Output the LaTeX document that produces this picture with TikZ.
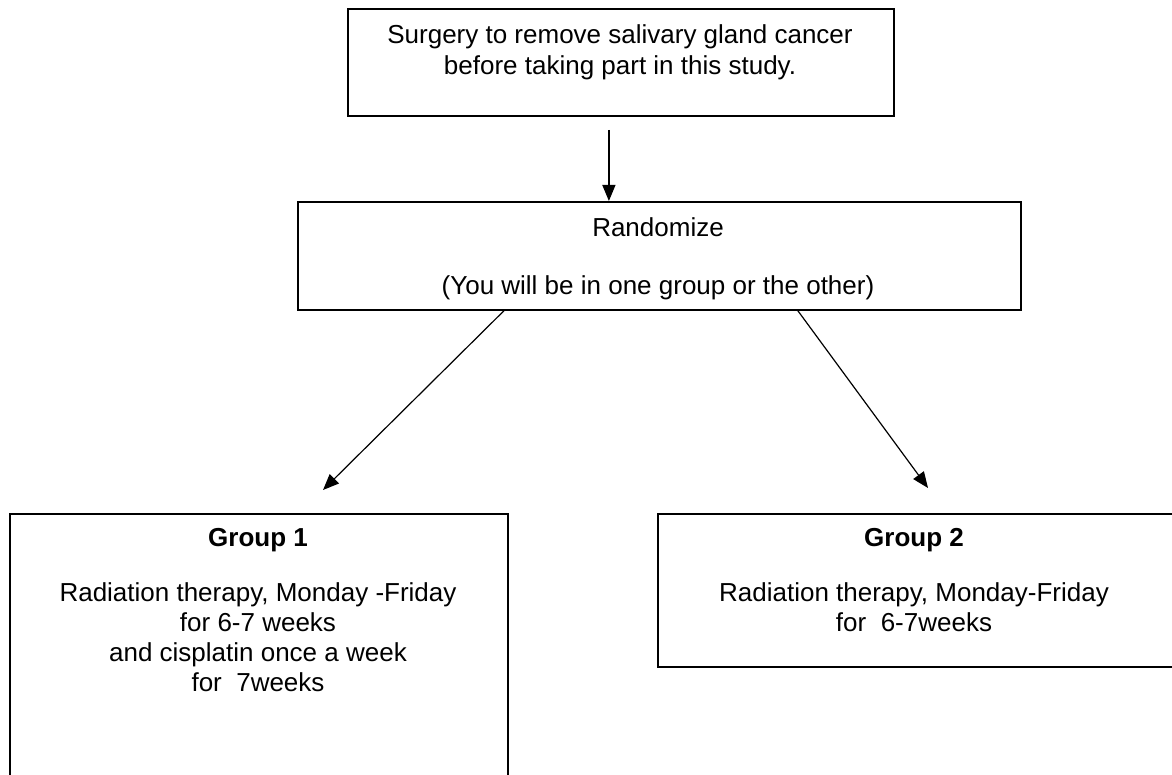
\documentclass[tikz,border=0pt]{standalone}
\usepackage{fontspec}
\setmainfont{Liberation Sans}
\usetikzlibrary{arrows.meta}

\begin{document}
\begin{tikzpicture}[x=0.5pt,y=-0.5pt,
  box/.style={draw,line width=0.9pt,inner sep=0pt,anchor=north west},
  txt/.style={align=center,inner sep=0pt,anchor=north,font=\fontsize{13}{15}\selectfont},
  arr/.style={-{Triangle[length=8pt,width=6.5pt]},line width=0.6pt}]

\useasboundingbox (0,0) rectangle (1172,775);

\node[box,minimum width=273pt,minimum height=53.5pt] (surgery) at (347,8) {};
\node[txt,font=\fontsize{13}{15.5}\selectfont] (surgerytxt) at (620,24)
  {Surgery to remove salivary gland cancer\\before taking part in this study.};

\node[box,minimum width=361.5pt,minimum height=54pt] (rand) at (297,201) {};
\node[txt] (randtxt) at (658,217) {Randomize\\[14pt](You will be in one group or the other)};

\node[box,minimum width=249pt,minimum height=138.5pt] (groupone) at (9,513) {};
\node[txt] (groupvtxt) at (258,528) {\textbf{Group 1}\\[12.5pt]Radiation therapy, Monday -Friday\\for 6-7 weeks\\
                    and cisplatin once a week\\for\ \ 7weeks};

\node[box,minimum width=261.5pt,minimum height=76.5pt] (grouptwo) at (657,513) {};
\node[txt] (groupwtxt) at (914,528) {\textbf{Group 2}\\[12.5pt]Radiation therapy, Monday-Friday\\for\ \ 6-7weeks};

\coordinate (tipone) at (323,490);
\coordinate (tiptwo) at (928,488);

\draw[arr,shorten <=6.5pt] ([xshift=-6pt]surgery.south) -- ([xshift=-25.25pt]rand.north);
\draw[arr] ([xshift=-77.75pt]rand.south) -- (tipone);
\draw[arr] ([xshift=69.25pt]rand.south) -- (tiptwo);

\end{tikzpicture}
\end{document}
